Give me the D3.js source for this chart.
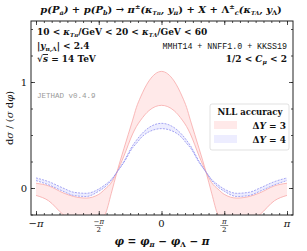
<!DOCTYPE html>
<html>
<head>
<meta charset="utf-8">
<script src="https://cdn.jsdelivr.net/npm/d3@7"></script>
<style>
  body { margin: 0; background: #fff; }
  svg text { font-family: "DejaVu Serif", "Liberation Serif", serif; fill: #111; }
  .mono { font-family: "Liberation Mono", "DejaVu Sans Mono", monospace; }
</style>
</head>
<body>
<div class="canvas"></div>
<script>
// phi values, in units of pi (right half, mirrored for the left)
const phiHalf = [0, 0.1, 0.166, 0.2, 0.23, 0.3, 0.355, 0.4, 0.45, 0.5, 0.6, 0.7, 0.785, 0.9, 1.0];
// DeltaY = 3, the two scale-variation edges
const red1 = [1.10, 1.01, 0.86, 0.76, 0.64, 0.37, 0.15, -0.05, -0.25, -0.30, -0.36, -0.32, -0.25, -0.12, -0.07];
const red2 = [0.78, 0.73, 0.64, 0.58, 0.51, 0.30, 0.15, 0.05, -0.01, -0.06, -0.095, -0.08, -0.045, 0.02, 0.045];
// DeltaY = 4
const blue1 = [0.61, 0.57, 0.50, 0.45, 0.40, 0.25, 0.15, 0.08, 0.03, -0.01, -0.05, -0.04, 0.0, 0.06, 0.095];
const blue2 = [0.56, 0.53, 0.47, 0.42, 0.38, 0.24, 0.15, 0.07, 0.01, -0.03, -0.08, -0.07, -0.03, 0.03, 0.07];

const xMajor = [-1, -0.5, 0, 0.5, 1];
const yMajor = [0, 1];
const legendLabels = ["\u0394Y = 3", "\u0394Y = 4"];

function mirror(vals) {
  return vals.slice(1).reverse().concat(vals);
}
const phiFull = phiHalf.slice(1).reverse().map(d => -d).concat(phiHalf);

function band(a, b) {
  const A = mirror(a), B = mirror(b);
  return phiFull.map((p, i) => ({ p: p * Math.PI, a: A[i], b: B[i] }));
}

const W = 307, H = 251;
const svg = d3.select('.canvas').append('svg')
  .attr('width', W).attr('height', H);

const frame = { left: 31, right: 293, top: 21, bottom: 215 };
const x = d3.scaleLinear().domain([-Math.PI, Math.PI]).range([36, 287]);
const y = d3.scaleLinear().domain([0, 1]).range([188, 82]);

svg.append('clipPath').attr('id', 'clip')
  .append('rect')
  .attr('x', frame.left).attr('y', frame.top)
  .attr('width', frame.right - frame.left).attr('height', frame.bottom - frame.top);

const plot = svg.append('g').attr('clip-path', 'url(#clip)');

const area = d3.area().x(d => x(d.p)).y0(d => y(d.a)).y1(d => y(d.b)).curve(d3.curveMonotoneX);
const lineA = d3.line().x(d => x(d.p)).y(d => y(d.a)).curve(d3.curveMonotoneX);
const lineB = d3.line().x(d => x(d.p)).y(d => y(d.b)).curve(d3.curveMonotoneX);

const series = [
  { data: band(red1, red2), fill: 'rgba(255,40,40,0.10)', stroke: '#f7a8a8', dash: null },
  { data: band(blue1, blue2), fill: 'rgba(60,60,255,0.09)', stroke: '#8f8fef', dash: '2,1.2' }
];

series.forEach(s => {
  plot.append('path').datum(s.data).attr('d', area).attr('fill', s.fill);
  [lineA, lineB].forEach(l => {
    plot.append('path').datum(s.data).attr('d', l)
      .attr('fill', 'none').attr('stroke', s.stroke).attr('stroke-width', 0.8)
      .attr('stroke-dasharray', s.dash);
  });
});

// frame
svg.append('rect')
  .attr('x', frame.left).attr('y', frame.top)
  .attr('width', frame.right - frame.left).attr('height', frame.bottom - frame.top)
  .attr('fill', 'none').attr('stroke', '#222').attr('stroke-width', 1);

// ticks (inward, all four sides)
const xMinor = d3.range(-16, 17).map(i => i * Math.PI / 16);
const yMinor = d3.range(-1, 7).map(i => i * 0.25);
function tickGroup(axis, tr) {
  const g = svg.append('g').attr('transform', tr).call(axis);
  g.select('.domain').remove();
  g.selectAll('line').attr('stroke', '#222').attr('stroke-width', 0.8);
  g.selectAll('text').remove();
}
tickGroup(d3.axisBottom(x).tickValues(xMinor).tickSize(-2), `translate(0,${frame.bottom})`);
tickGroup(d3.axisBottom(x).tickValues(xMajor.map(d => d * Math.PI)).tickSize(-4), `translate(0,${frame.bottom})`);
tickGroup(d3.axisTop(x).tickValues(xMinor).tickSize(-2), `translate(0,${frame.top})`);
tickGroup(d3.axisTop(x).tickValues(xMajor.map(d => d * Math.PI)).tickSize(-4), `translate(0,${frame.top})`);
tickGroup(d3.axisLeft(y).tickValues(yMinor).tickSize(-2), `translate(${frame.left},0)`);
tickGroup(d3.axisLeft(y).tickValues(yMajor).tickSize(-4), `translate(${frame.left},0)`);
tickGroup(d3.axisRight(y).tickValues(yMinor).tickSize(-2), `translate(${frame.right},0)`);
tickGroup(d3.axisRight(y).tickValues(yMajor).tickSize(-4), `translate(${frame.right},0)`);

// y tick labels
yMajor.forEach(v => {
  svg.append('text').attr('x', 27).attr('y', y(v) + 3.5)
    .attr('text-anchor', 'end').attr('font-size', 10).text(v);
});

// x tick labels
xMajor.forEach(v => {
  const cx = x(v * Math.PI);
  if (Math.abs(v) === 0.5) {
    svg.append('text').attr('x', cx).attr('y', 224).attr('text-anchor', 'middle')
      .attr('font-size', 7).attr('font-style', 'italic').text(v < 0 ? '\u2212\u03c0' : '\u03c0');
    svg.append('line').attr('x1', cx - 4).attr('x2', cx + 4).attr('y1', 225.5).attr('y2', 225.5)
      .attr('stroke', '#111').attr('stroke-width', 0.5);
    svg.append('text').attr('x', cx).attr('y', 232).attr('text-anchor', 'middle')
      .attr('font-size', 7).text('2');
  } else {
    const lab = v === 0 ? '0' : (v < 0 ? '\u2212\u03c0' : '\u03c0');
    svg.append('text').attr('x', cx).attr('y', 227).attr('text-anchor', 'middle')
      .attr('font-size', 10).attr('font-style', v === 0 ? 'normal' : 'italic').text(lab);
  }
});

// axis titles
const xt = svg.append('text').attr('x', 162).attr('y', 245).attr('text-anchor', 'middle')
  .attr('font-size', 10.5).attr('font-weight', 'bold').attr('font-style', 'italic');
xt.append('tspan').text('\u03c6 = \u03c6');
xt.append('tspan').attr('font-size', 7).attr('dy', 2).text('\u03c0');
xt.append('tspan').attr('dy', -2).text(' \u2212 \u03c6');
xt.append('tspan').attr('font-size', 7).attr('dy', 2).attr('font-style', 'normal').text('\u039b');
xt.append('tspan').attr('dy', -2).text(' \u2212 \u03c0');

const yt = svg.append('text').attr('transform', 'translate(13,118) rotate(-90)')
  .attr('text-anchor', 'middle').attr('font-size', 10);
yt.append('tspan').text('d');
yt.append('tspan').attr('font-style', 'italic').text('\u03c3');
yt.append('tspan').text(' / (');
yt.append('tspan').attr('font-style', 'italic').text('\u03c3');
yt.append('tspan').text(' d');
yt.append('tspan').attr('font-style', 'italic').text('\u03c6');
yt.append('tspan').text(')');

// title
const tt = svg.append('text').attr('x', 161).attr('y', 13).attr('text-anchor', 'middle')
  .attr('font-size', 10).attr('font-weight', 'bold').attr('font-style', 'italic');
tt.append('tspan').text('p(P');
tt.append('tspan').attr('font-size', 6.5).attr('dy', 2).text('a');
tt.append('tspan').attr('dy', -2).text(') + p(P');
tt.append('tspan').attr('font-size', 6.5).attr('dy', 2).text('b');
tt.append('tspan').attr('dy', -2).attr('font-style', 'normal').text(') \u2192 ');
tt.append('tspan').text('\u03c0');
tt.append('tspan').attr('font-size', 6.5).attr('dy', -4).attr('font-style', 'normal').text('\u00b1');
tt.append('tspan').attr('dy', 4).text('(\u03ba');
tt.append('tspan').attr('font-size', 5.5).attr('dy', 2).text('T\u03c0');
tt.append('tspan').attr('dy', -2).text(', y');
tt.append('tspan').attr('font-size', 6.5).attr('dy', 2).text('\u03c0');
tt.append('tspan').attr('dy', -2).attr('font-style', 'normal').text(') + ');
tt.append('tspan').text('X');
tt.append('tspan').attr('font-style', 'normal').text(' + \u039b');
tt.append('tspan').attr('font-size', 6.5).attr('dy', -4).attr('font-style', 'normal').text('\u00b1');
tt.append('tspan').attr('font-size', 6.5).attr('dy', 6).text('c');
tt.append('tspan').attr('dy', -2).text('(\u03ba');
tt.append('tspan').attr('font-size', 5.5).attr('dy', 2).text('T\u039b');
tt.append('tspan').attr('dy', -2).text(', y');
tt.append('tspan').attr('font-size', 6.5).attr('dy', 2).attr('font-style', 'normal').text('\u039b');
tt.append('tspan').attr('dy', -2).attr('font-style', 'normal').text(')');

// annotations
const fs = 9;
const a1 = svg.append('text').attr('x', 37).attr('y', 35).attr('font-size', fs).attr('font-weight', 'bold');
a1.append('tspan').text('10 < ');
a1.append('tspan').attr('font-style', 'italic').text('\u03ba');
a1.append('tspan').attr('font-size', 5.5).attr('font-style', 'italic').attr('dy', 2).text('T\u03c0');
a1.append('tspan').attr('dy', -2).text('/GeV < 20 < ');
a1.append('tspan').attr('font-style', 'italic').text('\u03ba');
a1.append('tspan').attr('font-size', 5.5).attr('font-style', 'italic').attr('dy', 2).text('T\u039b');
a1.append('tspan').attr('dy', -2).text('/GeV < 60');

const a2 = svg.append('text').attr('x', 37).attr('y', 49).attr('font-size', fs).attr('font-weight', 'bold');
a2.append('tspan').text('|');
a2.append('tspan').attr('font-style', 'italic').text('y');
a2.append('tspan').attr('font-size', 6).attr('dy', 2).text('\u03c0,\u039b');
a2.append('tspan').attr('dy', -2).text('| < 2.4');

const a3 = svg.append('text').attr('x', 37).attr('y', 62).attr('font-size', fs).attr('font-weight', 'bold');
a3.append('tspan').text('\u221a');
a3.append('tspan').attr('font-style', 'italic').attr('text-decoration', 'overline').text('s');
a3.append('tspan').text(' = 14 TeV');

svg.append('text').attr('class', 'mono').attr('x', 287).attr('y', 49).attr('text-anchor', 'end')
  .attr('font-size', 8.3).text('MMHT14 + NNFF1.0 + KKSS19');

const a5 = svg.append('text').attr('x', 287).attr('y', 62).attr('text-anchor', 'end')
  .attr('font-size', fs).attr('font-weight', 'bold');
a5.append('tspan').text('1/2 < ');
a5.append('tspan').attr('font-style', 'italic').text('C');
a5.append('tspan').attr('font-size', 6).attr('font-style', 'italic').attr('dy', 2).text('\u03bc');
a5.append('tspan').attr('dy', -2).text(' < 2');

svg.append('text').attr('class', 'mono').attr('x', 37).attr('y', 98)
  .attr('font-size', 7.5).style('fill', '#999').text('JETHAD v0.4.9');

// legend
const lg = svg.append('g').attr('transform', 'translate(210,104)');
lg.append('rect').attr('width', 79).attr('height', 46).attr('rx', 2)
  .attr('fill', '#fff').attr('fill-opacity', 0.85).attr('stroke', '#ccc').attr('stroke-width', 0.6);
lg.append('text').attr('x', 40).attr('y', 11).attr('text-anchor', 'middle')
  .attr('font-size', 8.5).attr('font-weight', 'bold').text('NLL accuracy');
const swatch = ['rgba(255,40,40,0.10)', 'rgba(60,60,255,0.09)'];
legendLabels.forEach((lab, i) => {
  lg.append('rect').attr('x', 4).attr('y', 17 + i * 14).attr('width', 23).attr('height', 8)
    .attr('fill', swatch[i]);
  const t = lg.append('text').attr('x', 76).attr('y', 24.5 + i * 14).attr('text-anchor', 'end')
    .attr('font-size', 9).attr('font-weight', 'bold');
  t.append('tspan').text('\u0394');
  t.append('tspan').attr('font-style', 'italic').text('Y');
  t.append('tspan').text(lab.slice(2));
});
</script>
</body>
</html>
